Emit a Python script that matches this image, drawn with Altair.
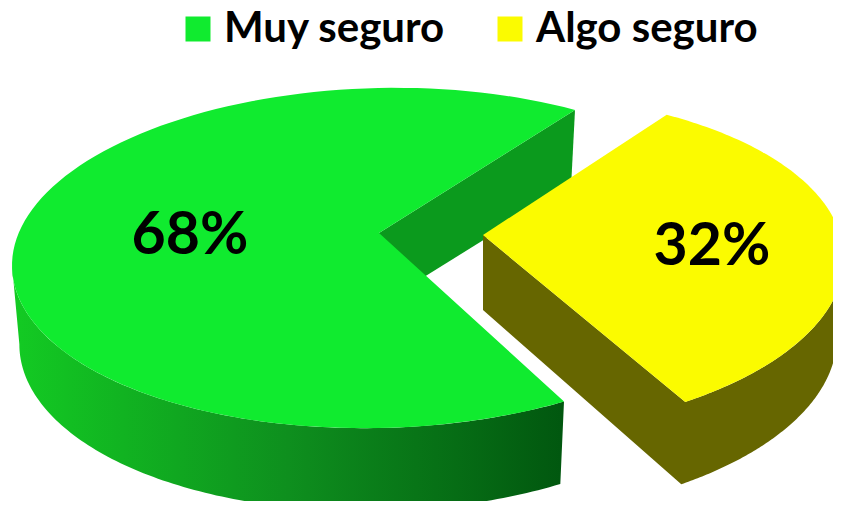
import math
import altair as alt

CATEGORIES = ["Muy seguro", "Algo seguro"]
SHARES = [68, 32]
LABELS = ["68%", "32%"]
TOP_COLORS = ["#10EB2F", "#FBFB00"]

# Arc of each slice on its ellipse, in degrees
ARCS = [(60, 302), (-59.5, 56)]
# ellipse: centre x, centre y, semi axes, tilt; apex of the slice
ELLIPSES = [
    dict(cx=380, cy=258, a=368, b=170, k=0.02, apex=(379, 233), apex_low=(379, 305)),
    dict(cx=484, cy=264, a=360, b=170, k=0.015, apex=(483, 235), apex_low=(483, 310)),
]
OFFSET = 8  # page margin


def top(e, t):
    r = math.radians(t)
    dx = e["a"] * math.cos(r)
    return (e["cx"] + dx, e["cy"] + e["b"] * math.sin(r) - e["k"] * dx)


def low(e, t):
    x, y = top(e, t)
    return (e["cx"] + (x - e["cx"]) * 0.98, y + 79 + 4 * math.sin(math.radians(t)))


def arc(fn, e, t0, t1, n=120):
    return [fn(e, t0 + (t1 - t0) * i / n) for i in range(n + 1)]


def feature(points, name):
    ring = [[x - OFFSET, y - OFFSET] for x, y in points]
    ring.append(ring[0])
    return {
        "type": "Feature",
        "geometry": {"type": "Polygon", "coordinates": [ring]},
        "properties": {"slice": name},
    }


proj = dict(type="identity", scale=1, translate=[0, 0])


def shape(points, fill):
    return alt.Chart(alt.Data(values=[feature(points, "")])).mark_geoshape(
        fill=fill, stroke=None
    ).project(**proj)


green, yellow = ELLIPSES
g0, g1 = ARCS[0]
y0, y1 = ARCS[1]

green_outer = arc(top, green, g0, 180) + arc(low, green, 180, g0)
green_inner = [green["apex"], top(green, g1), low(green, g1), green["apex_low"]]
green_top = [green["apex"]] + arc(top, green, g0, g1)

yellow_walls = (
    [yellow["apex"]]
    + arc(top, yellow, y1, 0)
    + arc(low, yellow, 0, y1)
    + [yellow["apex_low"]]
)
yellow_top = [yellow["apex"]] + arc(top, yellow, y0, y1)

gradient = alt.Gradient(
    gradient="linear", x1=0, x2=1, y1=0, y2=0,
    stops=[
        alt.GradientStop(offset=0, color="#13CB23"),
        alt.GradientStop(offset=0.5, color="#0E8F1E"),
        alt.GradientStop(offset=1, color="#01570F"),
    ],
)

tops = alt.Chart(
    alt.Data(values=[feature(green_top, CATEGORIES[0]), feature(yellow_top, CATEGORIES[1])])
).mark_geoshape(stroke=None).encode(
    color=alt.Color(
        "properties.slice:N",
        scale=alt.Scale(domain=CATEGORIES, range=TOP_COLORS),
        legend=alt.Legend(
            title=None, orient="none", legendX=169, legendY=0, direction="horizontal",
            columns=2, columnPadding=43, symbolType="square", symbolSize=625,
            symbolStrokeWidth=0, labelFont="Lato", labelFontWeight="bold",
            labelFontSize=42, labelColor="#000000", labelOffset=5, labelLimit=400,
        ),
    )
).project(**proj)

labels = [
    alt.Chart(alt.Data(values=[{"t": LABELS[0]}])).mark_text(
        font="Lato", fontWeight="bold", fontSize=59, color="#000000"
    ).encode(text="t:N", x=alt.value(190 - OFFSET), y=alt.value(236 - OFFSET)),
    alt.Chart(alt.Data(values=[{"t": LABELS[1]}])).mark_text(
        font="Lato", fontWeight="bold", fontSize=59, color="#000000"
    ).encode(text="t:N", x=alt.value(712 - OFFSET), y=alt.value(247 - OFFSET)),
]

chart = alt.layer(
    shape(green_outer, gradient),
    shape(green_inner, "#0B9A1D"),
    shape(yellow_walls, "#666600"),
    tops,
    *labels,
).properties(
    width=825, height=493, padding=0, background="#FFFFFF",
    autosize=alt.AutoSizeParams(type="none"),
).configure_view(stroke=None)

chart.save("out.html", embed_options={"renderer": "svg", "actions": False})
